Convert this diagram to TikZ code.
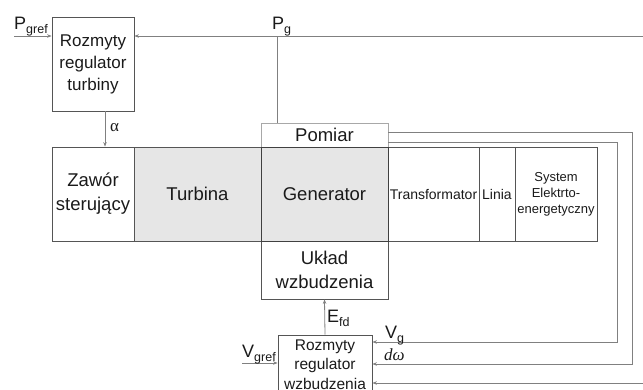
\documentclass[tikz,border=0pt]{standalone}
\usepackage{fontspec}
\setmainfont{Liberation Sans}
\newfontfamily\grk{Liberation Serif}
\usetikzlibrary{arrows.meta,calc}
\definecolor{linec}{HTML}{808080}
\definecolor{boxc}{HTML}{555555}
\definecolor{lightc}{HTML}{A8A8A8}
\definecolor{fillc}{HTML}{E6E6E6}
\definecolor{txtc}{HTML}{1A1A1A}
\newcommand\lbsub[1]{\raisebox{-4pt}{\fontsize{12.5}{12.5}\selectfont #1}}
\begin{document}
\begin{tikzpicture}[x=1pt,y=-1pt,
  box/.style={draw=boxc, line width=0.8pt, inner sep=0pt, align=center, text=txtc,
              font=\fontsize{18.5}{24}\selectfont},
  small/.style={box, font=\fontsize{14}{16}\selectfont},
  ln/.style={draw=linec, line width=0.8pt},
  arr/.style={ln, -{Stealth[length=4.5pt,width=3.5pt]}},
  lbl/.style={inner sep=0pt, text=txtc, font=\fontsize{18}{18}\selectfont}]
\useasboundingbox (0,0) rectangle (643,389);
\clip (0,0) rectangle (643,389);

% boxes
\node[box, font=\fontsize{17}{22}\selectfont, minimum width=82, minimum height=94] (rt) at (93,64)
  {Rozmyty\\regulator\\turbiny};
\node[box, minimum width=82, minimum height=94] (zaw) at (93,194) {Zawór\\sterujący};
\node[box, fill=fillc, minimum width=127, minimum height=94] (tur) at (197.5,194) {Turbina};
\node[small, minimum width=91, minimum height=94] (tra) at (433.5,194) {Transformator};
\node[small, minimum width=36, minimum height=94] (lin) at (497,194) {Linia};
\node[small, font=\fontsize{13}{16}\selectfont, minimum width=82, minimum height=94] (sys) at (556,194)
  {System\\Elektrto-\\energetyczny};
\node[box, draw=lightc, minimum width=127, minimum height=24] (pom) at (324.5,135) {Pomiar};
\node[box, minimum width=127, minimum height=58] (ukl) at (324.5,270) {Układ\\wzbudzenia};
\node[box, fill=fillc, draw=black!75, minimum width=127, minimum height=94] (gen) at (324.5,194) {Generator};
\node[box, font=\fontsize{15.5}{19.5}\selectfont, minimum width=94, minimum height=59] (rw) at (325,364.5)
  {Rozmyty\\regulator\\wzbudzenia};

% coordinates
\coordinate (pgl) at (14,36);
\coordinate (pgr) at (643,36);
\coordinate (pgj) at (277,36);
\coordinate (al) at (105,111);
\coordinate (k1) at (632,132);
\coordinate (k2) at (617,142);
\coordinate (vgy) at (617,342);
\coordinate (dwy) at (632,364);
\coordinate (r3) at (643,383);
\coordinate (vgl) at (242,363);

% connectors
\draw[arr] (pgl) -- (pgl -| rt.west);
\draw[arr] (pgr) -- (pgr -| rt.east);
\draw[ln] (pgj) -- (pgj |- pom.north);
\draw[arr] (al) -- (al |- zaw.north);
\draw[arr] (pom.east |- k1) -- (k1) -- (dwy) -- (dwy -| rw.east);
\draw[arr] (pom.east |- k2) -- (k2) -- (vgy) -- (vgy -| rw.east);
\draw[arr] (r3) -- (r3 -| rw.east);
\draw[arr] (vgl) -- (vgl -| rw.west);
\draw[arr] (rw.north) -- (ukl.south);

% labels
\node[lbl, anchor=base west] (lpgref) at (14,29) {P\lbsub{gref}};
\node[lbl, anchor=base west] (lpg) at (272,29) {P\lbsub{g}};
\node[lbl, anchor=base west, font=\fontsize{17}{17}\selectfont\grk] (lal) at (110,131) {α};
\node[lbl, anchor=base west] (lefd) at (327,322) {E\lbsub{fd}};
\node[lbl, anchor=base west] (lvg) at (385,338) {V\lbsub{g}};
\node[lbl, anchor=base west, font=\fontsize{17}{17}\selectfont\grk\itshape] (ldw) at (384,360) {dω};
\node[lbl, anchor=base west] (lvgref) at (242,357) {V\lbsub{gref}};
\end{tikzpicture}
\end{document}
